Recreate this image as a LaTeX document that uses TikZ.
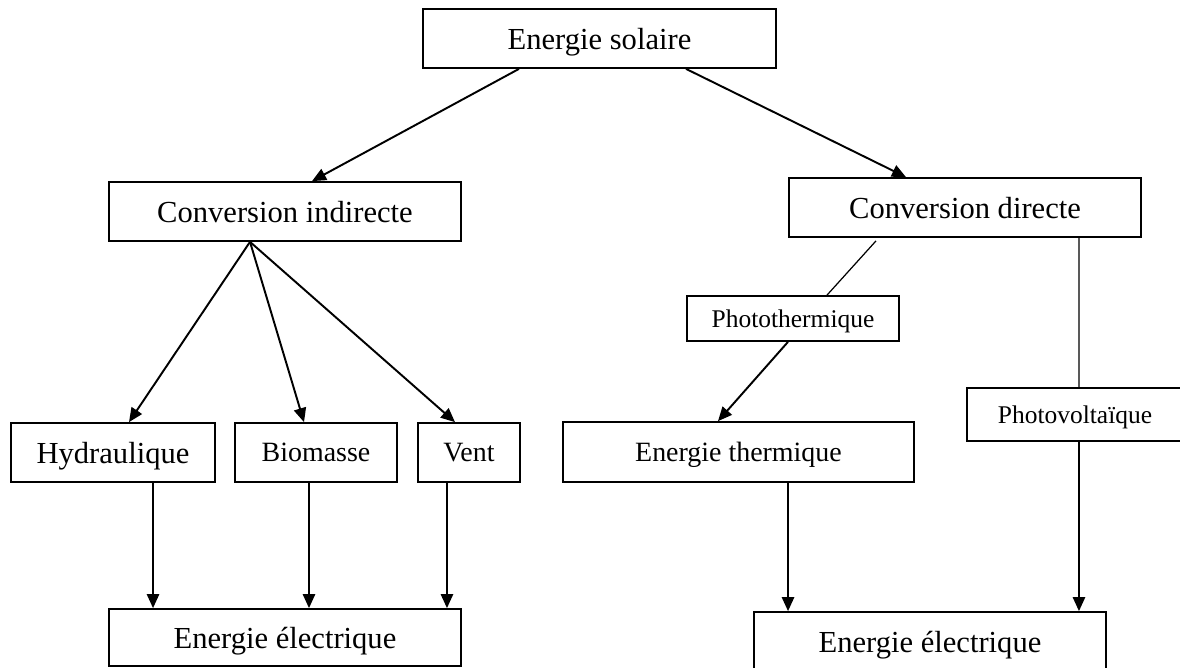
\documentclass[tikz,border=0pt]{standalone}
\usepackage{fontspec}
\setmainfont{Liberation Serif}
\usetikzlibrary{arrows.meta}
\tikzset{>={Triangle[length=8pt,width=7pt]}}
\tikzset{
  box/.style={draw,line width=1pt,inner sep=0pt,text depth=0pt,minimum height=1.18cm},
  big/.style={font=\fontsize{17.4}{20}\selectfont},
  mid/.style={font=\fontsize{15.9}{19}\selectfont},
  small/.style={font=\fontsize{14.5}{17}\selectfont},
  arr/.style={->,line width=1.1pt},
  thinline/.style={line width=.7pt}
}

\begin{document}
\begin{tikzpicture}[x=.02cm,y=-.02cm]
\clip (0,0) rectangle (1180,668);

\node[box,big,minimum width=7.06cm] (S1) at (599.5,38.5) {Energie solaire};
\node[box,big,minimum width=7.04cm] (I1) at (285,211.5) {Conversion indirecte};
\node[box,big,minimum width=7.04cm] (D1) at (965,207.5) {Conversion directe};

\node[box,big,minimum width=4.08cm] (H1) at (113,452.5) {Hydraulique};
\node[box,mid,minimum width=3.24cm] (B1) at (316,452.5) {Biomasse};
\node[box,mid,minimum width=2.04cm] (V1) at (469,452.5) {Vent};

\node[box,small,minimum width=4.24cm,minimum height=.9cm] (T1) at (793,318.5) {Photothermique};
\node[box,mid,minimum width=7.02cm,minimum height=1.2cm] (E1) at (738.5,452) {Energie thermique};
\node[box,small,minimum width=4.32cm,minimum height=1.06cm] (P1) at (1075,414.5) {Photovoltaïque};

\node[box,big,minimum width=7.04cm,minimum height=1.14cm] (L1) at (285,637.5) {Energie électrique};
\node[box,big,minimum width=7.04cm,minimum height=1.2cm] (L2) at (930,642) {Energie électrique};

\draw[arr] ([xshift=-1.61cm]S1.south) -- ([xshift=.54cm]I1.north);
\draw[arr] ([xshift=1.73cm]S1.south) -- ([xshift=-1.18cm]D1.north);

\foreach \n/\b in {H1/.32,B1/-.24,V1/-.28}
  \draw[arr] ([xshift=-.7cm]I1.south) -- ([xshift=\b cm]\n.north);

\foreach \n/\a/\b in {H1/.8/-2.64,B1/-.14/.48,V1/-.44/3.24}
  \draw[arr] ([xshift=\a cm]\n.south) -- ([xshift=\b cm]L1.north);

\draw[thinline] ([xshift=-1.78cm,yshift=-.06cm]D1.south) -- ([xshift=.68cm]T1.north);
\draw[arr] ([xshift=-.1cm]T1.south) -- ([xshift=-.41cm]E1.north);
\draw[arr] ([xshift=.99cm]E1.south) -- ([xshift=-2.84cm]L2.north);

\draw[thinline] ([xshift=2.28cm]D1.south) -- ([xshift=.08cm]P1.north);
\draw[arr] ([xshift=.08cm]P1.south) -- ([xshift=2.98cm]L2.north);
\end{tikzpicture}
\end{document}
